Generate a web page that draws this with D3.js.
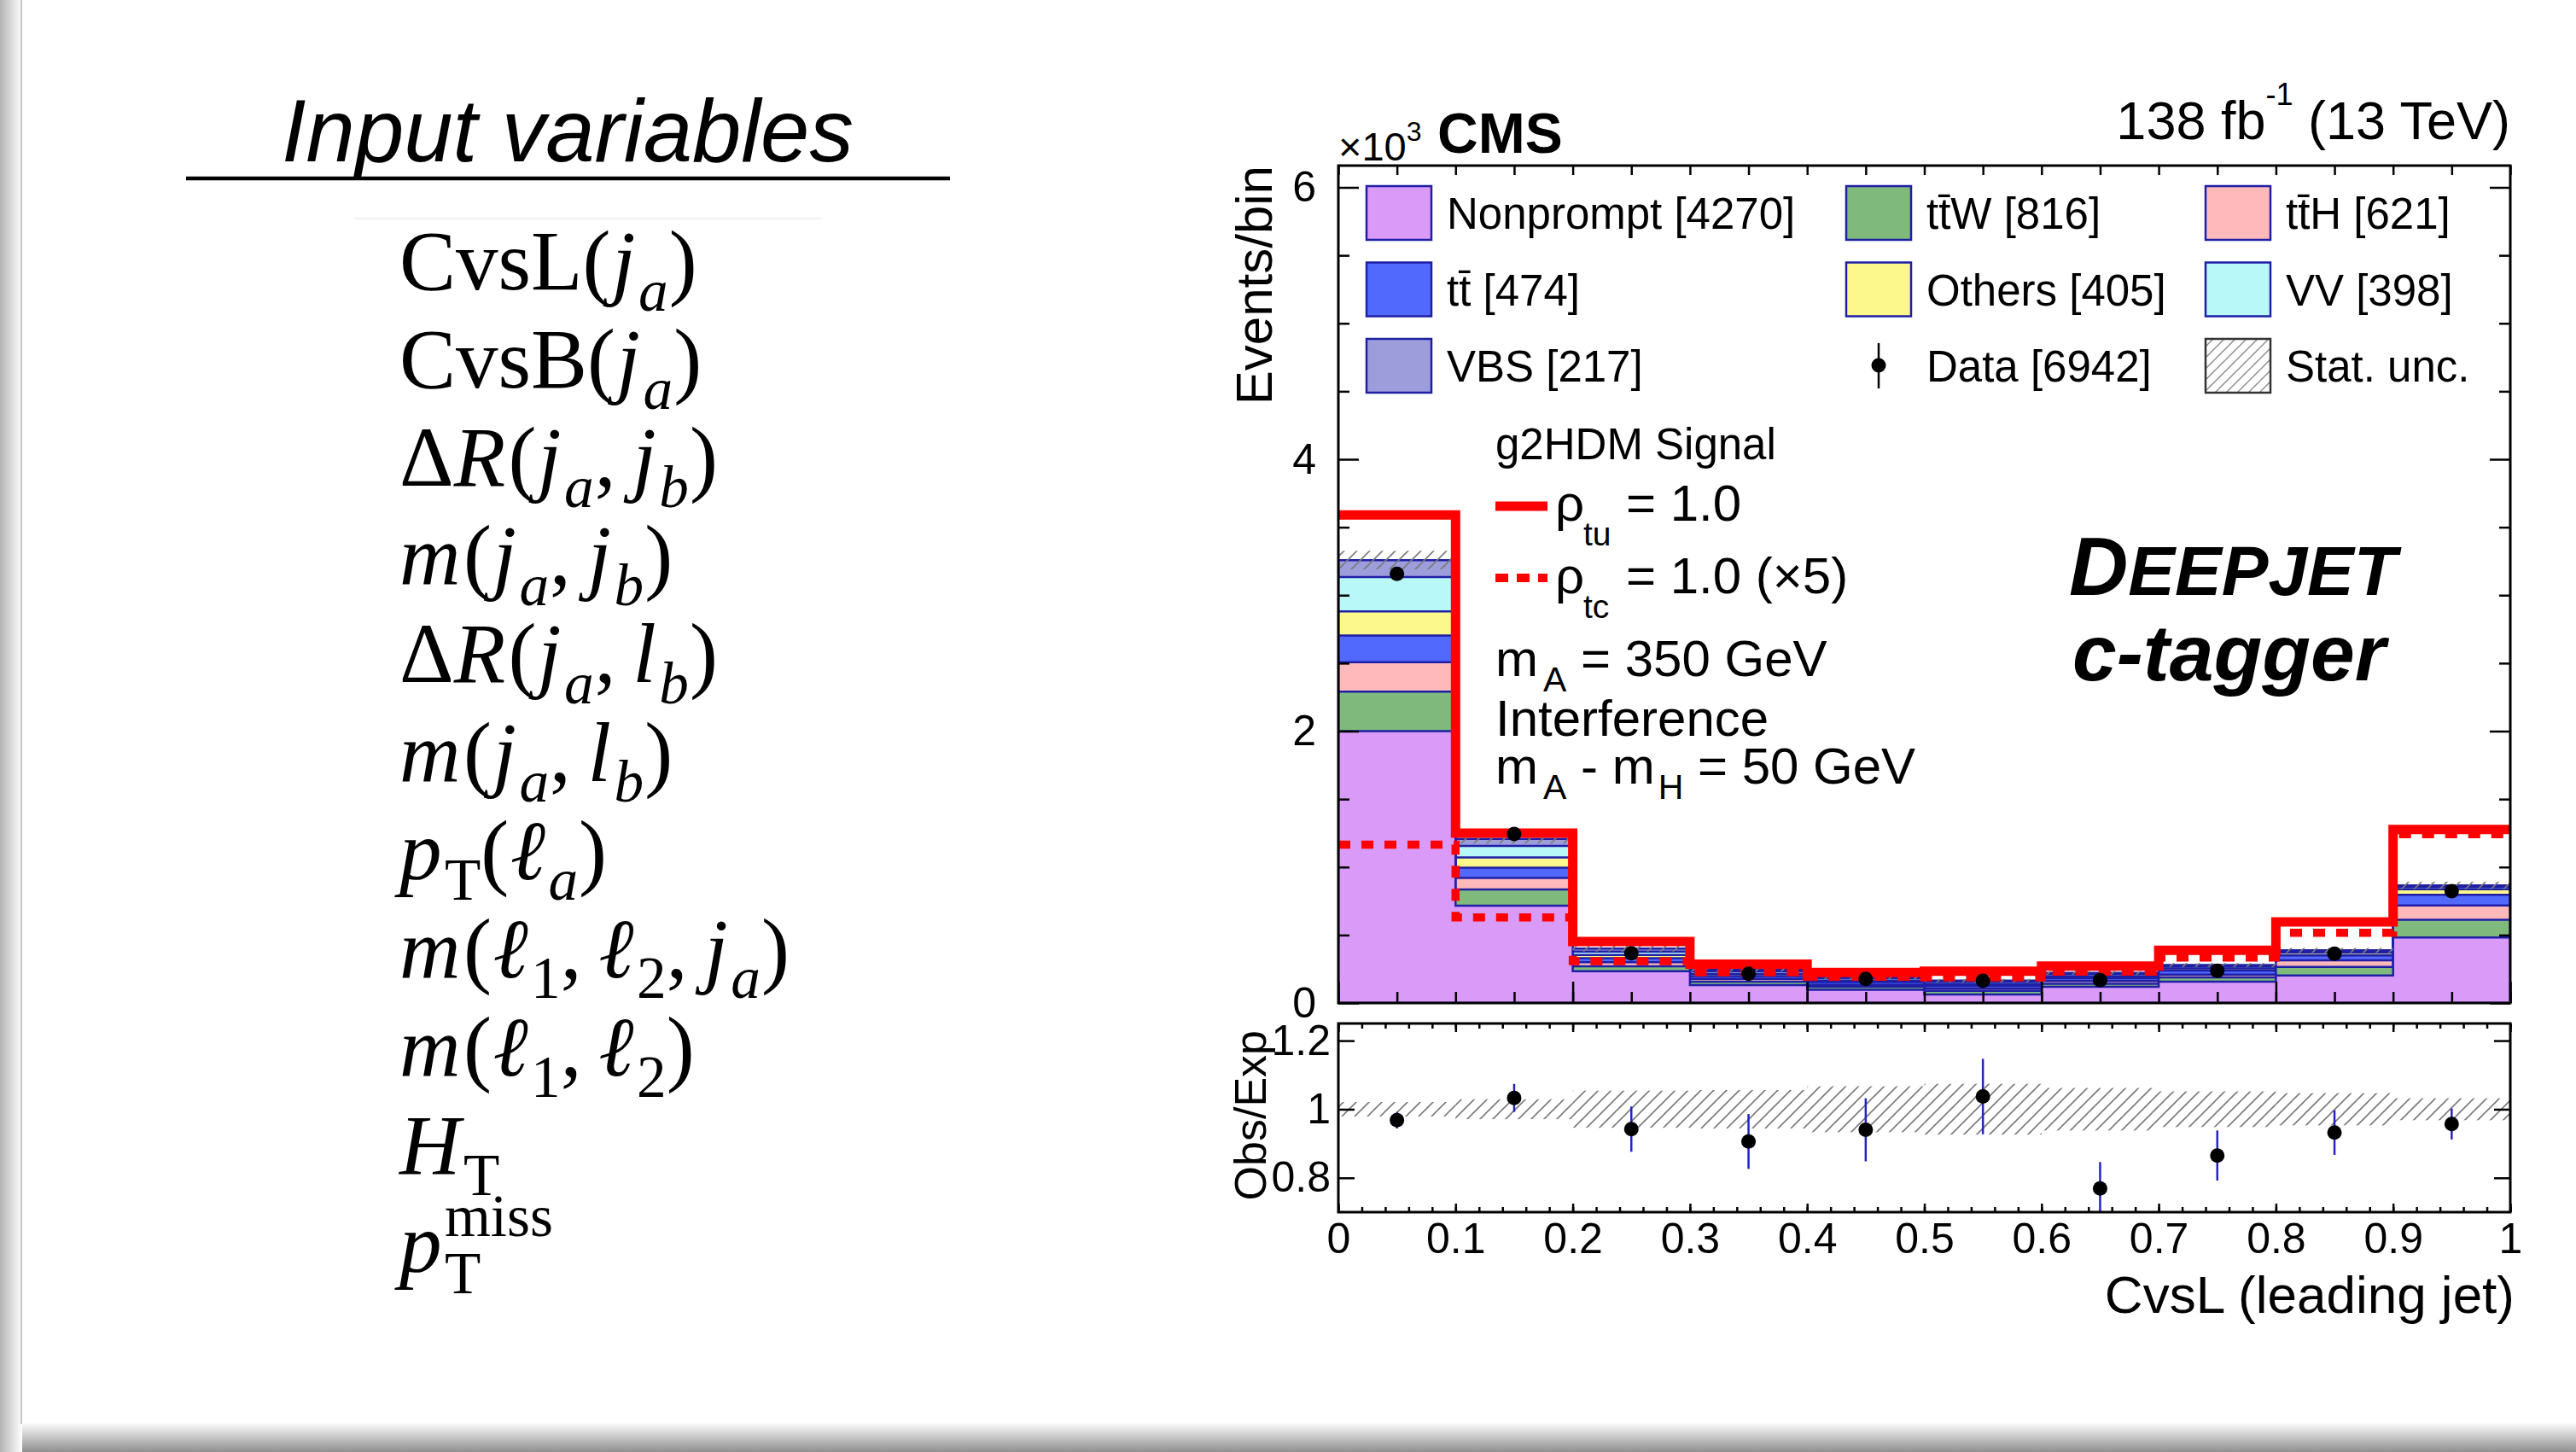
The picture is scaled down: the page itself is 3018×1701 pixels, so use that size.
<!DOCTYPE html>
<html>
<head>
<meta charset="utf-8">
<script src="https://cdn.jsdelivr.net/npm/d3@7"></script>
<style>
  html, body { margin: 0; padding: 0; background: #ffffff; }
  svg { display: block; }
</style>
</head>
<body>
<svg id="fig" width="3018" height="1701"></svg>
<script>
// ---------------------------------------------------------------------------
// Histogram content: CvsL of the leading jet, 10 bins, yields in units of 10^3
// ---------------------------------------------------------------------------
const binEdges   = [0, 0.1, 0.2, 0.3, 0.4, 0.5, 0.6, 0.7, 0.8, 0.9, 1.0];
const binCenters = [0.05, 0.15, 0.25, 0.35, 0.45, 0.55, 0.65, 0.75, 0.85, 0.95];

// background processes, stacked bottom to top
const nonprompt = [2.000, 0.716, 0.234, 0.132, 0.098, 0.063, 0.119, 0.157, 0.203, 0.482];
const ttW       = [0.290, 0.119, 0.036, 0.025, 0.021, 0.027, 0.023, 0.031, 0.063, 0.131];
const ttH       = [0.217, 0.085, 0.030, 0.021, 0.015, 0.015, 0.020, 0.021, 0.048, 0.105];
const ttbar     = [0.197, 0.076, 0.030, 0.020, 0.020, 0.020, 0.020, 0.030, 0.036, 0.078];
const others    = [0.176, 0.075, 0.024, 0.015, 0.010, 0.015, 0.015, 0.015, 0.020, 0.041];
const vv        = [0.253, 0.084, 0.024, 0.020, 0.016, 0.015, 0.015, 0.015, 0.010, 0.015];
const vbs       = [0.125, 0.053, 0.022, 0.012, 0.008, 0.010, 0.010, 0.010, 0.007, 0.013];

// observed data
const dataYield = [3.157, 1.244, 0.366, 0.215, 0.178, 0.163, 0.168, 0.237, 0.362, 0.823];

// g2HDM signal hypotheses
const sigTu   = [3.590, 1.250, 0.452, 0.285, 0.224, 0.234, 0.272, 0.387, 0.596, 1.277];
const sigTcX5 = [1.165, 0.630, 0.307, 0.226, 0.193, 0.188, 0.230, 0.335, 0.517, 1.241];

// relative statistical uncertainty of the total background
const statUnc = [0.021, 0.029, 0.054, 0.056, 0.067, 0.074, 0.062, 0.052, 0.047, 0.032];

// lower panel: observed / expected
const ratio    = [0.968, 1.033, 0.942, 0.906, 0.940, 1.037, 0.769, 0.865, 0.932, 0.957];
const ratioErr = [0.024, 0.041, 0.066, 0.080, 0.092, 0.110, 0.077, 0.073, 0.065, 0.045];

// legend
const processKeys   = ["nonprompt", "ttW", "ttH", "ttbar", "others", "vv", "vbs"];
const processColors = ["#d99af8", "#7fba7c", "#ffb9ba", "#5269fd", "#fdf88b", "#b9f8f8", "#9d9ddc"];
const legendLabels  = [
  "Nonprompt [4270]", "tt\u0304W [816]", "tt\u0304H [621]",
  "tt\u0304 [474]", "Others [405]", "VV [398]",
  "VBS [217]", "Data [6942]", "Stat. unc."
];
const legendKinds   = ["nonprompt", "ttW", "ttH", "ttbar", "others", "vv", "vbs", "data", "stat"];

// axis ticks
const yMajorTicks  = [0, 2, 4, 6];
const yMinorTicks  = [0.5, 1, 1.5, 2.5, 3, 3.5, 4.5, 5, 5.5];
const xLabelTicks  = [0, 0.1, 0.2, 0.3, 0.4, 0.5, 0.6, 0.7, 0.8, 0.9, 1.0];
const rMajorTicks  = [0.8, 1.0, 1.2];

// list of BDT input variables, tokens: [text, style]
const inputVariables = [
  [["CvsL","rm"],["(","rm"],["j","it"],["a","subit"],[")","rm"]],
  [["CvsB","rm"],["(","rm"],["j","it"],["a","subit"],[")","rm"]],
  [["\u0394","rm"],["R","it"],["(","rm"],["j","it"],["a","subit"],[",\u2009","rm"],["j","it"],["b","subit"],[")","rm"]],
  [["m","it"],["(","rm"],["j","it"],["a","subit"],[",\u2009","rm"],["j","it"],["b","subit"],[")","rm"]],
  [["\u0394","rm"],["R","it"],["(","rm"],["j","it"],["a","subit"],[",\u2009","rm"],["l","it"],["b","subit"],[")","rm"]],
  [["m","it"],["(","rm"],["j","it"],["a","subit"],[",\u2009","rm"],["l","it"],["b","subit"],[")","rm"]],
  [["p","it"],["T","subrm"],["(","rm"],["\u2113","it"],["a","subit"],[")","rm"]],
  [["m","it"],["(","rm"],["\u2113","it"],["1","subrm"],[",\u2009","rm"],["\u2113","it"],["2","subrm"],[",\u2009","rm"],["j","it"],["a","subit"],[")","rm"]],
  [["m","it"],["(","rm"],["\u2113","it"],["1","subrm"],[",\u2009","rm"],["\u2113","it"],["2","subrm"],[")","rm"]],
  [["H","it"],["T","subrm"]],
  [["p","it"],["T","subrm"],["miss","suprmstack"]]
];

// ---------------------------------------------------------------------------
const svg = d3.select("#fig");
const SANS = "'Liberation Sans', Arial, Helvetica, sans-serif";
const SERIF = "'Liberation Serif', 'DejaVu Serif', serif";
const NAVY = "#1f1fa6";

// page card with a soft drop shadow
const defs = svg.append("defs");
const shadowGrad = defs.append("linearGradient").attr("id", "shadowBottom")
  .attr("x1", 0).attr("y1", 0).attr("x2", 0).attr("y2", 1);
shadowGrad.append("stop").attr("offset", "0%").attr("stop-color", "#ffffff");
shadowGrad.append("stop").attr("offset", "100%").attr("stop-color", "#8f8f8f");
const shadowLeft = defs.append("linearGradient").attr("id", "shadowLeft")
  .attr("x1", 1).attr("y1", 0).attr("x2", 0).attr("y2", 0);
shadowLeft.append("stop").attr("offset", "0%").attr("stop-color", "#ffffff");
shadowLeft.append("stop").attr("offset", "100%").attr("stop-color", "#b5b5b5");

svg.append("rect").attr("width", 3018).attr("height", 1701).attr("fill", "#ffffff");
svg.append("rect").attr("x", 0).attr("y", 1666).attr("width", 3018).attr("height", 35)
  .attr("fill", "url(#shadowBottom)");
svg.append("rect").attr("x", 0).attr("y", 0).attr("width", 26).attr("height", 1701)
  .attr("fill", "url(#shadowLeft)");
svg.append("line").attr("x1", 25).attr("x2", 25).attr("y1", 0).attr("y2", 1668)
  .attr("stroke", "#c9c9c9").attr("stroke-width", 2);

// hatch patterns for the statistical uncertainty
function hatch(id, spacing, color, width) {
  const p = defs.append("pattern").attr("id", id)
    .attr("patternUnits", "userSpaceOnUse")
    .attr("width", spacing).attr("height", spacing);
  p.append("path")
    .attr("d", `M0,${spacing} L${spacing},0 M${-spacing/2},${spacing/2} L${spacing/2},${-spacing/2} M${spacing/2},${spacing*1.5} L${spacing*1.5},${spacing/2}`)
    .attr("stroke", color).attr("stroke-width", width);
}
hatch("hatchMain", 15, "#7a7a7a", 1.6);
hatch("hatchLegend", 13, "#8a8a8a", 1.4);

// ---------------------------------------------------------------------------
// Left: input variables
// ---------------------------------------------------------------------------
const left = svg.append("g");
left.append("text").attr("x", 330).attr("y", 189)
  .attr("font-family", SANS).attr("font-style", "italic").attr("font-size", 103)
  .attr("fill", "#000").text("Input variables");
left.append("line").attr("x1", 218).attr("x2", 1113).attr("y1", 209).attr("y2", 209)
  .attr("stroke", "#000").attr("stroke-width", 4.5);
left.append("line").attr("x1", 415).attr("x2", 964).attr("y1", 256).attr("y2", 256)
  .attr("stroke", "#f1f1f1").attr("stroke-width", 2);

function richLine(g, x0, baseline, tokens, size) {
  let cx = x0, lastStart = x0;
  tokens.forEach(([txt, kind]) => {
    const small = kind.startsWith("sub") || kind.startsWith("sup");
    const fs = small ? size * 0.7 : size;
    const dy = kind.startsWith("sub") ? size * 0.25 : kind.startsWith("sup") ? -size * 0.42 : 0;
    const italic = kind.endsWith("it");
    const stack = kind === "suprmstack";
    const tx = stack ? lastStart : cx;
    const t = g.append("text").attr("x", tx).attr("y", baseline + dy)
      .attr("font-family", SERIF).attr("font-size", fs)
      .attr("font-style", italic ? "italic" : "normal")
      .attr("fill", "#000").text(txt);
    const w = t.node().getComputedTextLength();
    if (stack) { cx = Math.max(cx, tx + w); }
    else {
      lastStart = cx;
      cx += w + (italic ? size * (small ? 0.01 : 0.035) : (txt === "(" ? size * 0.015 : 0));
    }
  });
}
const varBaseline = d3.scaleLinear().domain([0, inputVariables.length - 1]).range([339, 1490]);
inputVariables.forEach((tokens, i) => richLine(left, 468, varBaseline(i), tokens, 99));

// ---------------------------------------------------------------------------
// Right: CMS histogram
// ---------------------------------------------------------------------------
const x  = d3.scaleLinear().domain([0, 1]).range([1568, 2941]);
const y  = d3.scaleLinear().domain([0, 6]).range([1175, 219.5]);
const yr = d3.scaleLinear().domain([0.7, 1.25]).range([1420, 1199]);
const yTop = y.invert(194);

const plot = svg.append("g");
defs.append("clipPath").attr("id", "mainClip").append("rect")
  .attr("x", x(0)).attr("y", y(yTop)).attr("width", x(1) - x(0)).attr("height", y(0) - y(yTop));
defs.append("clipPath").attr("id", "ratioClip").append("rect")
  .attr("x", x(0)).attr("y", yr(1.25)).attr("width", x(1) - x(0)).attr("height", yr(0.7) - yr(1.25));

// stacked backgrounds
const rows = binCenters.map((c, i) => ({
  nonprompt: nonprompt[i], ttW: ttW[i], ttH: ttH[i], ttbar: ttbar[i],
  others: others[i], vv: vv[i], vbs: vbs[i]
}));
const stacked = d3.stack().keys(processKeys)(rows);
const stepPoints = vals => binEdges.map((e, i) => ({ x: e, v: vals[Math.min(i, vals.length - 1)] }));
const stepArea = d3.area().x(d => x(d.x)).y0(y(0)).y1(d => y(d.v)).curve(d3.curveStepAfter);
const stepLine = d3.line().x(d => x(d.x)).y(d => y(d.v)).curve(d3.curveStepAfter);

const mainG = plot.append("g").attr("clip-path", "url(#mainClip)");
stacked.slice().reverse().forEach(layer => {
  const k = processKeys.indexOf(layer.key);
  const tops = layer.map(d => d[1]);
  mainG.append("path").attr("d", stepArea(stepPoints(tops)))
    .attr("fill", processColors[k]).attr("stroke", NAVY).attr("stroke-width", 2.5);
});

// statistical uncertainty band on the total
const totals = stacked[stacked.length - 1].map(d => d[1]);
mainG.selectAll("rect.unc").data(totals).join("rect").attr("class", "unc")
  .attr("x", (d, i) => x(binEdges[i])).attr("width", (d, i) => x(binEdges[i + 1]) - x(binEdges[i]))
  .attr("y", (d, i) => y(d * (1 + statUnc[i])))
  .attr("height", (d, i) => y(d * (1 - statUnc[i])) - y(d * (1 + statUnc[i])))
  .attr("fill", "url(#hatchMain)");

// signal curves
mainG.append("path").attr("d", stepLine(stepPoints(sigTcX5)))
  .attr("fill", "none").attr("stroke", "#ff0000").attr("stroke-width", 9.5)
  .attr("stroke-dasharray", "14 13");
mainG.append("path").attr("d", stepLine(stepPoints(sigTu)))
  .attr("fill", "none").attr("stroke", "#ff0000").attr("stroke-width", 11);

// data points
mainG.selectAll("circle.data").data(dataYield).join("circle").attr("class", "data")
  .attr("cx", (d, i) => x(binCenters[i])).attr("cy", d => y(d)).attr("r", 8.5).attr("fill", "#000");

// axes of the upper panel (ticks point inward)
function styleAxis(g) {
  g.select(".domain").remove();
  g.selectAll("line").attr("stroke", "#000").attr("stroke-width", 2.5);
  g.selectAll("text").attr("font-family", SANS).attr("font-size", 50).attr("fill", "#000");
}
plot.append("g").attr("transform", `translate(${x(0)},0)`)
  .call(d3.axisLeft(y).tickValues(yMajorTicks).tickSizeInner(-24).tickSizeOuter(0).tickPadding(26)
    .tickFormat(d3.format("d"))).call(styleAxis);
plot.append("g").attr("transform", `translate(${x(0)},0)`)
  .call(d3.axisLeft(y).tickValues(yMinorTicks).tickSizeInner(-13).tickSizeOuter(0).tickFormat(""))
  .call(styleAxis);
plot.append("g").attr("transform", `translate(${x(1)},0)`)
  .call(d3.axisRight(y).tickValues(yMajorTicks).tickSizeInner(-24).tickSizeOuter(0).tickFormat(""))
  .call(styleAxis);
plot.append("g").attr("transform", `translate(${x(1)},0)`)
  .call(d3.axisRight(y).tickValues(yMinorTicks).tickSizeInner(-13).tickSizeOuter(0).tickFormat(""))
  .call(styleAxis);

const xMinorMain = d3.range(0, 21).map(i => i * 0.05);
plot.append("g").attr("transform", `translate(0,${y(0)})`)
  .call(d3.axisBottom(x).tickValues(xMinorMain).tickSizeInner(-13).tickSizeOuter(0).tickFormat(""))
  .call(styleAxis);
plot.append("g").attr("transform", `translate(0,${y(0)})`)
  .call(d3.axisBottom(x).tickValues([0, 0.2, 0.4, 0.6, 0.8, 1]).tickSizeInner(-25).tickSizeOuter(0).tickFormat(""))
  .call(styleAxis);
plot.append("g").attr("transform", `translate(0,${y(yTop)})`)
  .call(d3.axisTop(x).tickValues(xMinorMain).tickSizeInner(-11).tickSizeOuter(0).tickFormat(""))
  .call(styleAxis);

plot.append("rect").attr("x", x(0)).attr("y", y(yTop)).attr("width", x(1) - x(0))
  .attr("height", y(0) - y(yTop)).attr("fill", "none").attr("stroke", "#000").attr("stroke-width", 3);

// ---------------------------------------------------------------------------
// lower ratio panel
// ---------------------------------------------------------------------------
const ratioG = plot.append("g").attr("clip-path", "url(#ratioClip)");
ratioG.selectAll("rect.band").data(statUnc).join("rect").attr("class", "band")
  .attr("x", (d, i) => x(binEdges[i])).attr("width", (d, i) => x(binEdges[i + 1]) - x(binEdges[i]))
  .attr("y", d => yr(1 + d)).attr("height", d => yr(1 - d) - yr(1 + d))
  .attr("fill", "url(#hatchMain)");
ratioG.selectAll("line.err").data(ratio).join("line").attr("class", "err")
  .attr("x1", (d, i) => x(binCenters[i])).attr("x2", (d, i) => x(binCenters[i]))
  .attr("y1", (d, i) => yr(d + ratioErr[i])).attr("y2", (d, i) => yr(d - ratioErr[i]))
  .attr("stroke", "#2424c0").attr("stroke-width", 2.5);
ratioG.selectAll("circle.r").data(ratio).join("circle").attr("class", "r")
  .attr("cx", (d, i) => x(binCenters[i])).attr("cy", d => yr(d)).attr("r", 8.5).attr("fill", "#000");

const xMinorRatio = d3.range(0, 51).map(i => i * 0.02);
plot.append("g").attr("transform", `translate(0,${yr(0.7)})`)
  .call(d3.axisBottom(x).tickValues(xMinorRatio).tickSizeInner(-6).tickSizeOuter(0).tickFormat(""))
  .call(styleAxis);
plot.append("g").attr("transform", `translate(0,${yr(0.7)})`)
  .call(d3.axisBottom(x).tickValues(xLabelTicks).tickSizeInner(-10).tickSizeOuter(0).tickPadding(12)
    .tickFormat(d => String(+d.toFixed(1)))).call(styleAxis);
plot.append("g").attr("transform", `translate(0,${yr(1.25)})`)
  .call(d3.axisTop(x).tickValues(xMinorRatio).tickSizeInner(-6).tickSizeOuter(0).tickFormat(""))
  .call(styleAxis);
plot.append("g").attr("transform", `translate(0,${yr(1.25)})`)
  .call(d3.axisTop(x).tickValues(xLabelTicks).tickSizeInner(-10).tickSizeOuter(0).tickFormat(""))
  .call(styleAxis);
plot.append("g").attr("transform", `translate(${x(0)},0)`)
  .call(d3.axisLeft(yr).tickValues(rMajorTicks).tickSizeInner(-19).tickSizeOuter(0).tickPadding(9)
    .tickFormat(d => String(+d.toFixed(1)))).call(styleAxis);
plot.append("g").attr("transform", `translate(${x(1)},0)`)
  .call(d3.axisRight(yr).tickValues(rMajorTicks).tickSizeInner(-19).tickSizeOuter(0).tickFormat(""))
  .call(styleAxis);
plot.append("rect").attr("x", x(0)).attr("y", yr(1.25)).attr("width", x(1) - x(0))
  .attr("height", yr(0.7) - yr(1.25)).attr("fill", "none").attr("stroke", "#000").attr("stroke-width", 3);

// axis titles
plot.append("text").attr("transform", `translate(1490,${y(yTop)}) rotate(-90)`)
  .attr("text-anchor", "end").attr("font-family", SANS).attr("font-size", 60).text("Events/bin");
plot.append("text").attr("transform", `translate(1483,${yr(1.25) + 8}) rotate(-90)`)
  .attr("text-anchor", "end").attr("font-family", SANS).attr("font-size", 52).text("Obs/Exp");
plot.append("text").attr("x", x(1) + 5).attr("y", 1538).attr("text-anchor", "end")
  .attr("font-family", SANS).attr("font-size", 62).text("CvsL (leading jet)");

// headers
const hdr = plot.append("text").attr("x", x(0)).attr("y", 188).attr("font-family", SANS).attr("font-size", 47);
hdr.append("tspan").text("\u00d710");
hdr.append("tspan").attr("font-size", 32).attr("dy", -23).text("3");
plot.append("text").attr("x", 1684).attr("y", 179).attr("font-family", SANS)
  .attr("font-weight", "bold").attr("font-size", 66).text("CMS");
const lumi = plot.append("text").attr("x", x(1)).attr("y", 163).attr("text-anchor", "end")
  .attr("font-family", SANS).attr("font-size", 63);
lumi.append("tspan").text("138 fb");
lumi.append("tspan").attr("font-size", 36).attr("dy", -40).text("-1");
lumi.append("tspan").attr("dy", 40).text(" (13 TeV)");

// legend of processes
const legCols = [1601, 2163, 2584];
const legRowTop = [218, 307.5, 397];
legendLabels.forEach((lab, i) => {
  const cx0 = legCols[i % 3], ry = legRowTop[Math.floor(i / 3)];
  const kind = legendKinds[i];
  const k = processKeys.indexOf(kind);
  if (k >= 0) {
    plot.append("rect").attr("x", cx0).attr("y", ry).attr("width", 76).attr("height", 63)
      .attr("fill", processColors[k]).attr("stroke", NAVY).attr("stroke-width", 2.5);
  } else if (kind === "stat") {
    plot.append("rect").attr("x", cx0).attr("y", ry).attr("width", 76).attr("height", 63)
      .attr("fill", "url(#hatchLegend)").attr("stroke", "#333").attr("stroke-width", 2.5);
  } else {
    plot.append("line").attr("x1", 2201).attr("x2", 2201).attr("y1", ry + 5).attr("y2", ry + 58)
      .attr("stroke", "#000").attr("stroke-width", 2.5);
    plot.append("circle").attr("cx", 2201).attr("cy", ry + 31).attr("r", 8.5).attr("fill", "#000");
  }
  plot.append("text").attr("x", cx0 + 94).attr("y", ry + 50)
    .attr("font-family", SANS).attr("font-size", 51).text(lab);
});

// signal legend and model description
const sig = plot.append("g").attr("font-family", SANS).attr("fill", "#000");
sig.append("text").attr("x", 1752).attr("y", 538).attr("font-size", 51).text("g2HDM Signal");
sig.append("line").attr("x1", 1752).attr("x2", 1813).attr("y1", 593).attr("y2", 593)
  .attr("stroke", "#ff0000").attr("stroke-width", 11);
sig.append("line").attr("x1", 1752).attr("x2", 1813).attr("y1", 677).attr("y2", 677)
  .attr("stroke", "#ff0000").attr("stroke-width", 10).attr("stroke-dasharray", "15 10");
[["tu", "= 1.0", 610], ["tc", "= 1.0 (\u00d75)", 695]].forEach(([s, rest, b]) => {
  sig.append("text").attr("x", 1822).attr("y", b).attr("font-size", 60).text("\u03c1");
  sig.append("text").attr("x", 1855).attr("y", b + 29).attr("font-size", 39).text(s);
  sig.append("text").attr("x", 1905).attr("y", b).attr("font-size", 60).text(rest);
});
const mA = sig.append("text").attr("x", 1752).attr("y", 792).attr("font-size", 60);
mA.append("tspan").text("m");
mA.append("tspan").attr("font-size", 41).attr("dx", 6).attr("dy", 18).text("A");
mA.append("tspan").attr("dy", -18).text(" = 350 GeV");
sig.append("text").attr("x", 1752).attr("y", 862).attr("font-size", 60).text("Interference");
const mAH = sig.append("text").attr("x", 1752).attr("y", 918).attr("font-size", 60);
mAH.append("tspan").text("m");
mAH.append("tspan").attr("font-size", 41).attr("dx", 6).attr("dy", 18).text("A");
mAH.append("tspan").attr("dy", -18).text(" - m");
mAH.append("tspan").attr("font-size", 41).attr("dx", 4).attr("dy", 18).text("H");
mAH.append("tspan").attr("dy", -18).text(" = 50 GeV");

// tagger label
const dj = plot.append("text").attr("x", 2424).attr("y", 697).attr("font-family", SANS)
  .attr("font-weight", "bold").attr("font-style", "italic").attr("font-size", 96);
dj.append("tspan").text("D");
dj.append("tspan").attr("font-size", 82).text("EEPJET");
plot.append("text").attr("x", 2428).attr("y", 797).attr("font-family", SANS)
  .attr("font-weight", "bold").attr("font-style", "italic").attr("font-size", 93).text("c-tagger");
</script>
</body>
</html>
